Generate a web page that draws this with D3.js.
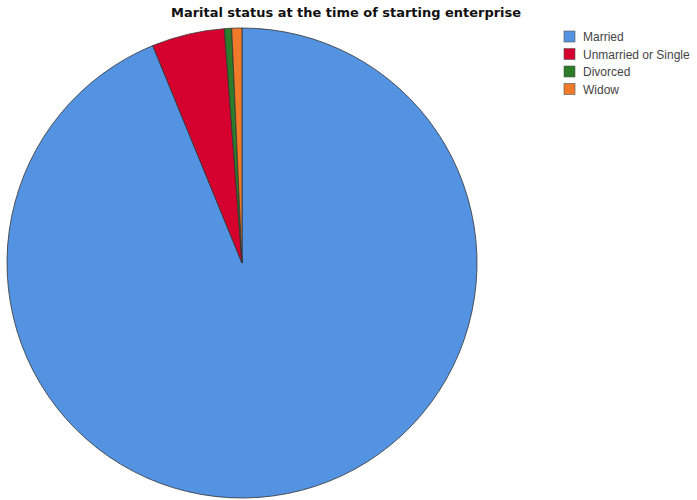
<!DOCTYPE html>
<html><head><meta charset="utf-8">
<script src="https://cdn.jsdelivr.net/npm/d3@7"></script>
<style>body{margin:0;background:#fff}</style>
</head><body>
<svg id="c" width="697" height="500"></svg>
<script>
const categories = ["Married", "Unmarried or Single", "Divorced", "Widow"];
const values = [93.8, 5.0, 0.5, 0.7];
const colors = ["#5393e2", "#d6002e", "#2c7d29", "#ef7a29"];
const title = "Marital status at the time of starting enterprise";

const svg = d3.select("#c");
const cx = 242, cy = 263, r = 235;

svg.append("text").attr("x", 346).attr("y", 17).attr("text-anchor", "middle")
  .attr("font-family", "DejaVu Sans").attr("font-weight", "bold").attr("font-size", 12.5)
  .attr("textLength", 350).attr("lengthAdjust", "spacingAndGlyphs")
  .attr("fill", "#111").text(title);

const pie = d3.pie().sort(null).value(d => d)(values);
const arc = d3.arc().innerRadius(0).outerRadius(r);
const g = svg.append("g").attr("transform", `translate(${cx},${cy})`);
g.selectAll("path").data(pie).join("path")
  .attr("d", arc).attr("fill", (d, i) => colors[i])
  .attr("stroke", "#333").attr("stroke-width", 0.8);

const leg = svg.append("g").attr("transform", "translate(564,31)");
const rows = leg.selectAll("g").data(categories).join("g")
  .attr("transform", (d, i) => `translate(0,${i * 17.5})`);
rows.append("rect").attr("width", 11).attr("height", 11)
  .attr("fill", (d, i) => colors[i]).attr("stroke", "#555").attr("stroke-width", 0.6);
rows.append("text").attr("x", 19).attr("y", 10)
  .attr("font-family", "Liberation Sans").attr("font-size", 12).attr("fill", "#444").text(d => d);
</script>
</body></html>
